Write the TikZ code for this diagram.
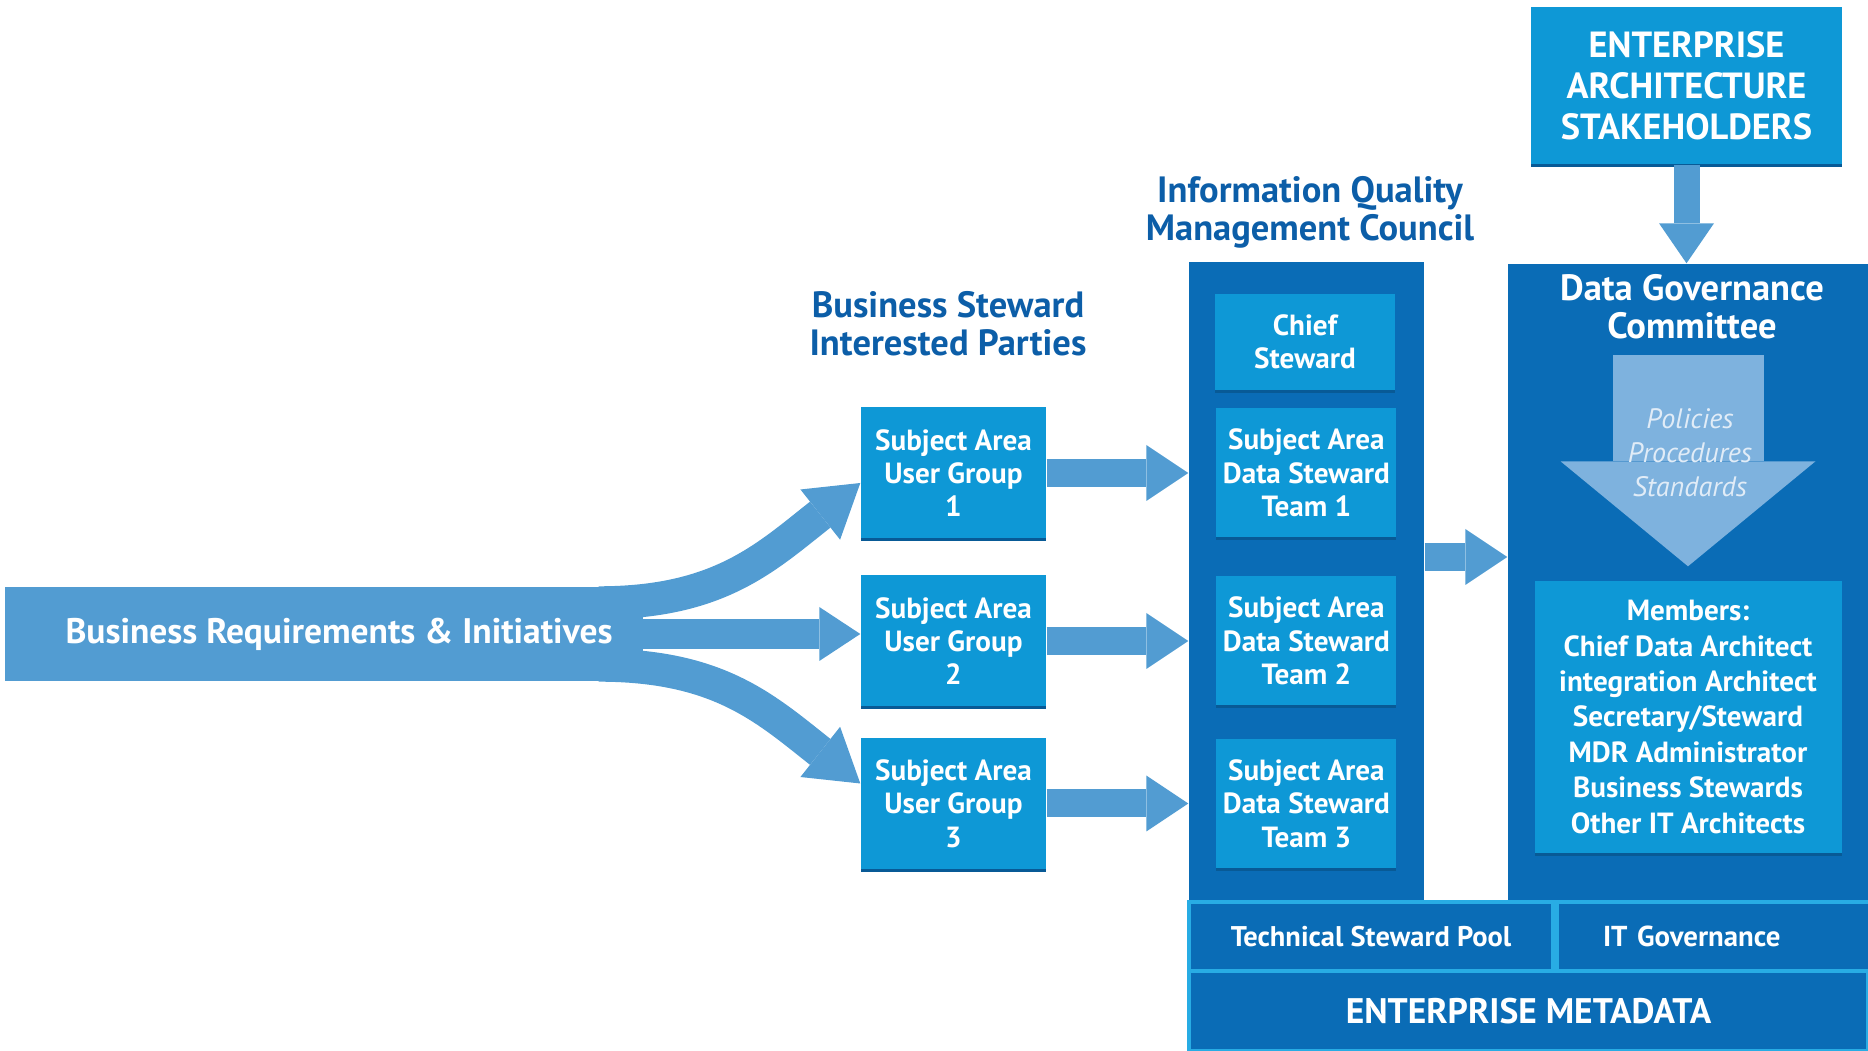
\documentclass[tikz,border=0pt]{standalone}
\usepackage{fontspec}
\setmainfont{PT Sans}
\usetikzlibrary{arrows.meta}
\usetikzlibrary{calc}
\usetikzlibrary{positioning}
\usetikzlibrary{shadows}
\definecolor{darkblue}{RGB}{10,108,182}
\definecolor{boxblue}{RGB}{14,152,214}
\definecolor{boxshade}{RGB}{8,90,150}
\definecolor{arrowblue}{RGB}{82,156,210}
\definecolor{titleblue}{RGB}{12,94,168}
\definecolor{policyblue}{RGB}{126,178,222}
\definecolor{policytext}{RGB}{225,236,247}
\definecolor{edgeblue}{RGB}{40,172,228}
\newcommand{\boxtxt}{\fontsize{8.3}{9.5}\selectfont\bfseries}
\newcommand{\membertxt}{\fontsize{8.3}{10.1}\selectfont\bfseries}
\newcommand{\headtxt}{\fontsize{10.4}{10.9}\selectfont\bfseries}
\newcommand{\eatxt}{\fontsize{10.35}{11.7}\selectfont\bfseries}
\newcommand{\bandtxt}{\fontsize{10.1}{11}\selectfont\bfseries}
\newcommand{\polytxt}{\fontsize{8}{9.7}\selectfont\itshape}
\tikzset{
	% boxes: light (groups, stewards) and dark (council, committee)
	light box/.style={fill=boxblue,text=white,font=\boxtxt,align=center,inner sep=0,
		drop shadow={shadow xshift=0mm,shadow yshift=-0.3mm,fill=boxshade,opacity=1}},
	dark box/.style={fill=darkblue,inner sep=0},
	base box/.style={fill=darkblue,draw=edgeblue,line width=0.4mm,text=white,inner sep=0},
	% wide arrows
	fat arrow/.style={draw=arrowblue,line width=2.8mm,-{Triangle[length=4.2mm,width=5.6mm,line width=0pt]}},
	branch arrow/.style={draw=arrowblue,line width=3.3mm,-{Triangle[length=5.1mm,width=6.4mm,line width=0pt]}},
	title text/.style={text=titleblue,font=\headtxt,align=center}
}

\begin{document}
\begin{tikzpicture}[x=0.1mm,y=-0.1mm]
\useasboundingbox (0,0) rectangle (1868,1051);

% incoming band
\node(bri)[fill=arrowblue,text=white,font=\bandtxt,minimum width=63.8mm,minimum height=9.4mm,inner sep=0] at (324,634) {\hspace*{3mm}Business Requirements \& Initiatives};

% user groups
\node(bsip)[title text] at (948,324) {Business Steward\\Interested Parties};
\node(ug1)[light box,minimum width=18.5mm,minimum height=13.1mm] at (953.5,473) {Subject Area\\User Group\\1};
\node(ug2)[light box,minimum width=18.5mm,minimum height=13.1mm] at (953.5,641) {Subject Area\\User Group\\2};
\node(ug3)[light box,minimum width=18.5mm,minimum height=13.1mm] at (953.5,803.5) {Subject Area\\User Group\\3};

% band splits into three
\draw[branch arrow] ($(bri.north east)+(-45,16.5)$) .. controls +(120,0) and +(-95,75) .. ([yshift=-1mm]ug1.west);
\draw[fat arrow,line width=3mm,-{Triangle[length=4.1mm,width=5.4mm,line width=0pt]}] ([xshift=-1mm]bri.east) -- (bri.east -| ug2.west);
\draw[branch arrow] ($(bri.south east)+(-45,-16.5)$) .. controls +(120,0) and +(-95,-75) .. ([yshift=2mm]ug3.west);

% council
\node(iqmctitle)[title text] at (1310,212) {Information Quality\\Management Council};
\node(iqmc)[dark box,minimum width=23.5mm,minimum height=64mm] at (1306.5,582) {};
\node(chief)[light box,minimum width=18mm,minimum height=9.6mm] at (1305,342) {Chief\\Steward};
\node(team1)[light box,minimum width=18mm,minimum height=12.9mm,right=16.9mm of ug1] {Subject Area\\Data Steward\\Team 1};
\node(team2)[light box,minimum width=18mm,minimum height=12.9mm,right=16.9mm of ug2] {Subject Area\\Data Steward\\Team 2};
\node(team3)[light box,minimum width=18mm,minimum height=12.9mm,right=16.9mm of ug3] {Subject Area\\Data Steward\\Team 3};

\draw[fat arrow] (ug1.east) -- (ug1.east -| iqmc.west);
\draw[fat arrow] (ug2.east) -- (ug2.east -| iqmc.west);
\draw[fat arrow] (ug3.east) -- (ug3.east -| iqmc.west);

% committee
\node(dgc)[dark box,minimum width=36mm,minimum height=63.8mm] at (1688,583) {};
\node(dgctitle)[text=white,font=\headtxt,align=center] at (1692,307) {Data Governance\\Committee};
\node(members)[light box,font=\membertxt,minimum width=30.7mm,minimum height=27.2mm] at (1688,717) {Members:\\Chief Data Architect\\integration Architect\\Secretary/Steward\\MDR Administrator\\Business Stewards\\Other IT Architects};
\coordinate(pol) at (1688,355);
\draw[draw=policyblue,line width=15.1mm,-{Triangle[length=10.5mm,width=25.5mm,line width=0pt]}] (pol) -- ([yshift=1.4mm]members.north);
\node(pps)[text=policytext,font=\polytxt,align=center] at (1690,453) {Policies\\Procedures\\Standards};

\coordinate(cd) at ($(iqmc.east)+(0,-25)$);
\draw[fat arrow] (cd) -- (cd -| dgc.west);

% stakeholders
\node(ea)[light box,font=\eatxt,minimum width=31.1mm,minimum height=15.7mm] at (1686.5,85.5) {ENTERPRISE\\ARCHITECTURE\\STAKEHOLDERS};
\draw[fat arrow,line width=2.6mm,-{Triangle[length=4mm,width=5.5mm,line width=0pt]}] (ea.south) -- (ea.south |- dgc.north);

% base rows
\node(tsp)[base box,font=\fontsize{8.1}{9.5}\selectfont\bfseries,minimum width=36.4mm,minimum height=6.9mm] at (1371,936.5) {Technical Steward Pool};
\node(itg)[base box,font=\fontsize{8.2}{9.5}\selectfont\bfseries,minimum width=31.5mm,minimum height=6.9mm,text width=22.6mm,inner xsep=4.6mm,align=left,right=0pt of tsp] {IT Governance};
\node(em)[base box,font=\fontsize{10.1}{11}\selectfont\bfseries,minimum width=67.9mm,minimum height=8mm] at (1528.5,1011) {ENTERPRISE METADATA};

\end{tikzpicture}
\end{document}
